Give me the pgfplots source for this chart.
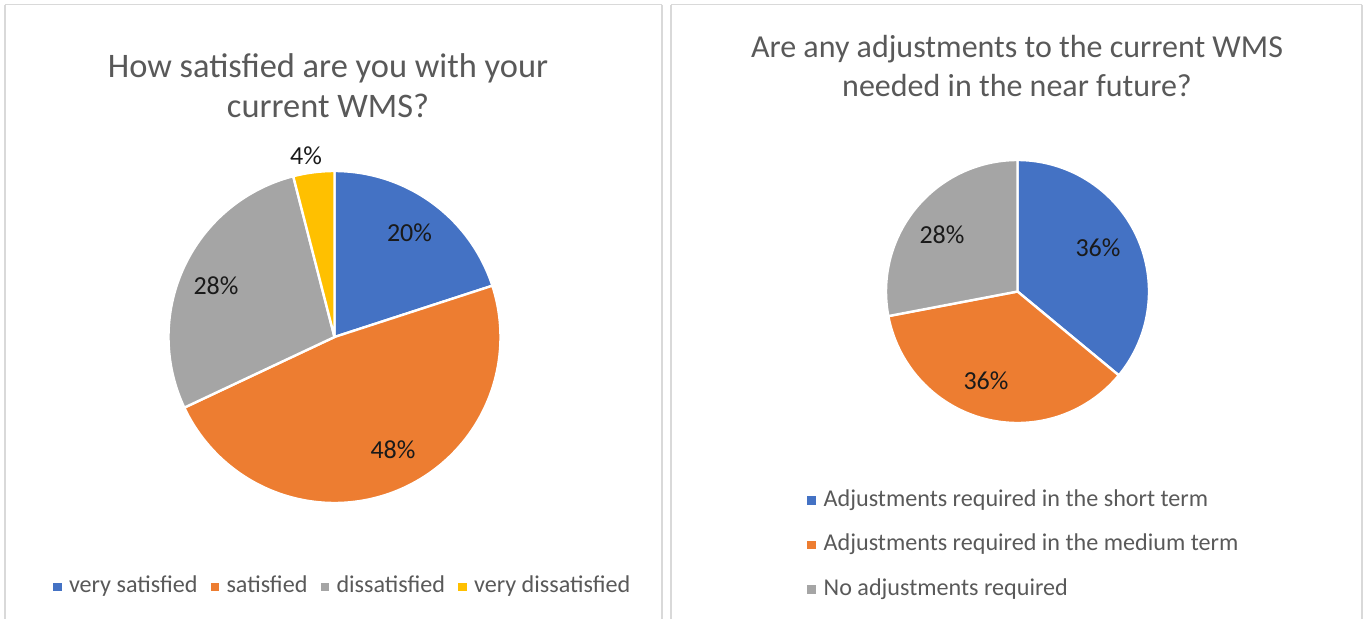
\documentclass[border=0pt]{standalone}
\usepackage{fontspec}
\setmainfont{Carlito}
\usepackage{pgfplots}
\pgfplotsset{compat=1.18}
\definecolor{cblue}{HTML}{4472C4}
\definecolor{corange}{HTML}{ED7D31}
\definecolor{cgray}{HTML}{A5A5A5}
\definecolor{cyellow}{HTML}{FFC000}
\definecolor{ctext}{HTML}{595959}
\definecolor{clabel}{HTML}{1A1A1A}
\definecolor{cborder}{HTML}{D9D9D9}

% survey shares (percent)
\def\vVerySat{20}\def\vSat{48}\def\vDissat{28}\def\vVeryDissat{4}
\def\vShort{36}\def\vMedium{36}\def\vNone{28}

\pgfplotsset{
  panel/.style={
    width=1026pt, height=463.5pt, scale only axis,
    xmin=0, xmax=1368, ymin=0, ymax=618, y dir=reverse,
    hide axis, clip=false,
    legend image code/.code={\fill[##1, draw=none] (0pt,-3.1pt) rectangle (6.3pt,3.1pt);},
  },
  slice/.style={draw=white, line width=1.8pt, line join=round, samples=100, variable=\t},
}
\newcommand\titlefont{\fontsize{25.8}{31}\selectfont}
\newcommand\rtitlefont{\fontsize{24}{29}\selectfont}
\newcommand\labelfont{\fontsize{19.5}{23}\selectfont}
\newcommand\legfont{\fontsize{18.1}{21}\selectfont}

\begin{document}
\begin{tikzpicture}
% angles, clockwise from 12 o'clock
\pgfmathsetmacro\la{90}
\pgfmathsetmacro\lb{\la-3.6*\vVerySat}
\pgfmathsetmacro\lc{\lb-3.6*\vSat}
\pgfmathsetmacro\ld{\lc-3.6*\vDissat}
\pgfmathsetmacro\le{\ld-3.6*\vVeryDissat}
\pgfmathsetmacro\ra{90}
\pgfmathsetmacro\rb{\ra-3.6*\vShort}
\pgfmathsetmacro\rc{\rb-3.6*\vMedium}
\pgfmathsetmacro\rd{\rc-3.6*\vNone}

% ---------- left panel ----------
\begin{axis}[panel,
  legend columns=4,
  legend cell align=left,
  legend style={at={(axis cs:53,587)}, anchor=west, draw=none, fill=none,
    inner sep=0pt, font=\legfont, text=ctext,
    cells={anchor=west},
    nodes={inner sep=0pt, text height=12pt, text depth=3.5pt},
    /tikz/every odd column/.append style={column sep=5.5pt},
    /tikz/every even column/.append style={column sep=10pt}},
]
\draw[cborder, line width=1.1pt] (5,4.5) -- (662,4.5);
\draw[cborder, line width=1.1pt] (5,4.5) -- (5,640);
\draw[cborder, line width=1.1pt] (662,4.5) -- (662,640);
\addplot[slice, fill=cblue, domain=\lb:\la] ({334.5+166*cos(\t)},{337-166*sin(\t)}) -- (334.5,337) -- cycle;
\addplot[slice, fill=corange, domain=\lc:\lb] ({334.5+166*cos(\t)},{337-166*sin(\t)}) -- (334.5,337) -- cycle;
\addplot[slice, fill=cgray, domain=\ld:\lc] ({334.5+166*cos(\t)},{337-166*sin(\t)}) -- (334.5,337) -- cycle;
\addplot[slice, fill=cyellow, domain=\le:\ld] ({334.5+166*cos(\t)},{337-166*sin(\t)}) -- (334.5,337) -- cycle;
\legend{very satisfied, satisfied, dissatisfied, very dissatisfied}
\node[font=\titlefont, text=ctext, anchor=base] at (328,77) {How satisfied are you with your};
\node[font=\titlefont, text=ctext, anchor=base] at (328,117) {current WMS?};
\node[font=\labelfont, text=clabel, inner sep=0pt] at (409.5,233) {\vVerySat\%};
\node[font=\labelfont, text=clabel, inner sep=0pt] at (393,450) {\vSat\%};
\node[font=\labelfont, text=clabel, inner sep=0pt] at (216,286) {\vDissat\%};
\node[font=\labelfont, text=clabel, inner sep=0pt] at (306,156) {\vVeryDissat\%};
\end{axis}

% ---------- right panel ----------
\begin{axis}[panel,
  legend columns=1,
  legend cell align=left,
  legend style={at={(axis cs:807,545)}, anchor=west, draw=none, fill=none,
    inner sep=0pt, font=\legfont, text=ctext,
    cells={anchor=west},
    nodes={inner sep=0pt, text height=12pt, text depth=3.5pt},
    row sep=17.9pt,
    /tikz/every odd column/.append style={column sep=6pt}},
]
\draw[cborder, line width=1.1pt] (671,4.5) -- (1362,4.5);
\draw[cborder, line width=1.1pt] (671,4.5) -- (671,640);
\draw[cborder, line width=1.1pt] (1362,4.5) -- (1362,640);
\addplot[slice, fill=cblue, domain=\rb:\ra] ({1017.5+131.5*cos(\t)},{291.5-131.5*sin(\t)}) -- (1017.5,291.5) -- cycle;
\addplot[slice, fill=corange, domain=\rc:\rb] ({1017.5+131.5*cos(\t)},{291.5-131.5*sin(\t)}) -- (1017.5,291.5) -- cycle;
\addplot[slice, fill=cgray, domain=\rd:\rc] ({1017.5+131.5*cos(\t)},{291.5-131.5*sin(\t)}) -- (1017.5,291.5) -- cycle;
\legend{Adjustments required in the short term, Adjustments required in the medium term, No adjustments required}
\node[font=\rtitlefont, text=ctext, anchor=base] at (1017,57) {Are any adjustments to the current WMS};
\node[font=\rtitlefont, text=ctext, anchor=base] at (1017,96) {needed in the near future?};
\node[font=\labelfont, text=clabel, inner sep=0pt] at (1098,248) {\vShort\%};
\node[font=\labelfont, text=clabel, inner sep=0pt] at (986,381) {\vMedium\%};
\node[font=\labelfont, text=clabel, inner sep=0pt] at (942,235) {\vNone\%};
\end{axis}
\pgfresetboundingbox
\path (0,0) rectangle (1026pt,463.5pt);
\end{tikzpicture}
\end{document}
